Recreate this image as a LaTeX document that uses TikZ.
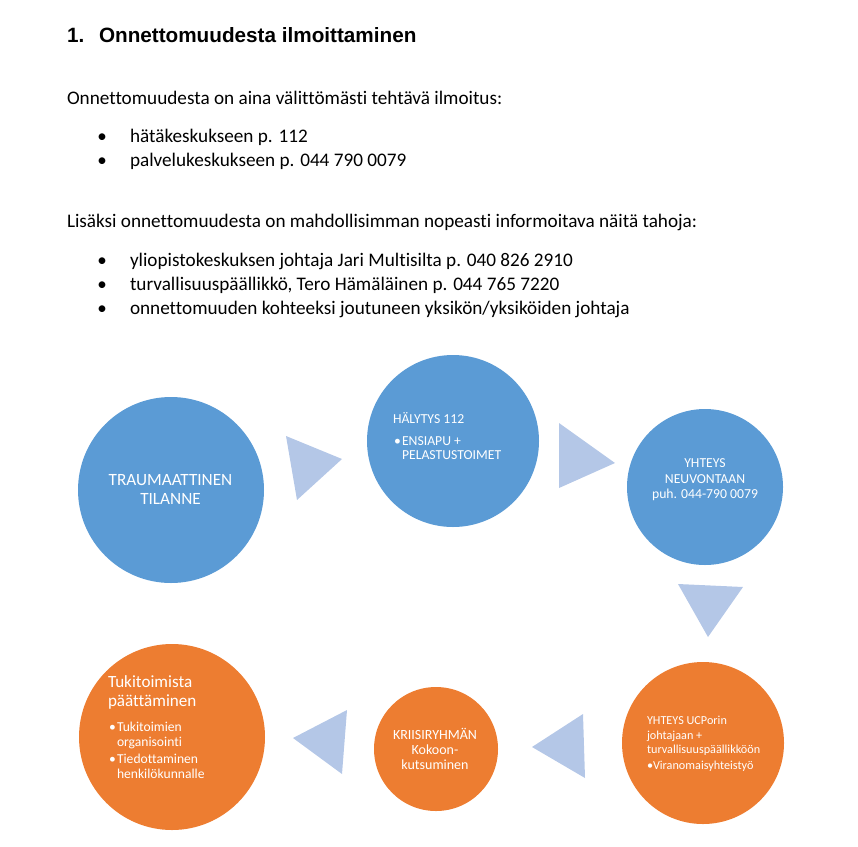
\documentclass[tikz,border=0pt]{standalone}
\usepackage{fontspec}
\setmainfont{Carlito}[Ligatures={NoCommon}]
\newfontfamily\arialfont{Liberation Sans}
\definecolor{cblue}{HTML}{5B9BD5}
\definecolor{corange}{HTML}{ED7D31}
\definecolor{ctri}{HTML}{B4C7E7}
\begin{document}
\begin{tikzpicture}[x=1pt,y=-1pt,inner sep=0pt,outer sep=0pt,
  titletext/.style={anchor=base west,font=\arialfont\bfseries\fontsize{20.7}{20.7}\selectfont},
  body/.style={anchor=base west,font=\fontsize{19.2}{19.2}\selectfont},
  bodybullet/.style={anchor=base,font=\fontsize{19}{19}\selectfont},
  bluecircle/.style={circle,fill=cblue,draw=none},
  orangecircle/.style={circle,fill=corange,draw=none},
  tri/.style={fill=ctri,draw=none},
  ctext/.style={text=white,font=\fontsize{#1}{#1}\selectfont},
  ctext/.default=13.7]
\useasboundingbox (0,0) rectangle (858,846);

% heading and text
\node[titletext] (hnum) at (67,42) {1.};
\node[titletext] (htitle) at (99,42) {Onnettomuudesta ilmoittaminen};

\node[body] (p1) at (67,104) {Onnettomuudesta on aina välittömästi tehtävä ilmoitus:};
\node[bodybullet] (b1) at (102,142.5) {•};
\node[body] (l1) at (130,142.5) {hätäkeskukseen p. 112};
\node[bodybullet] (b2) at (102,166) {•};
\node[body] (l2) at (130,166) {palvelukeskukseen p. 044 790 0079};

\node[body] (p2) at (67,227) {Lisäksi onnettomuudesta on mahdollisimman nopeasti informoitava näitä tahoja:};
\node[bodybullet] (b3) at (102,266.5) {•};
\node[body] (l3) at (130,266.5) {yliopistokeskuksen johtaja Jari Multisilta p. 040 826 2910};
\node[bodybullet] (b4) at (102,290) {•};
\node[body] (l4) at (130,290) {turvallisuuspäällikkö, Tero Hämäläinen p. 044 765 7220};
\node[bodybullet] (b5) at (102,314) {•};
\node[body] (l5) at (130,314) {onnettomuuden kohteeksi joutuneen yksikön/yksiköiden johtaja};

% circles
\node[bluecircle,minimum size=186pt] (c1) at (171,490) {};
\node[bluecircle,minimum size=172pt] (c2) at (453,441) {};
\node[bluecircle,minimum size=156pt] (c3) at (705,487) {};
\node[orangecircle,minimum size=162pt] (c4) at (703,743) {};
\node[orangecircle,minimum size=124pt] (c5) at (436,749) {};
\node[orangecircle,minimum size=186pt] (c6) at (172,737) {};

% triangles
\fill[tri] (286,436) -- (342,459) -- (297,500) -- cycle;
\fill[tri] (559,423) -- (615,463) -- (559,488) -- cycle;
\fill[tri] (678,584) -- (743,587) -- (708,637) -- cycle;
\fill[tri] (532,747) -- (583,714) -- (585,778) -- cycle;
\fill[tri] (293,738) -- (347,710) -- (342,774) -- cycle;

% circle 1 text
\node[ctext=17.2,anchor=base] (t1a) at (170.5,485) {TRAUMAATTINEN};
\node[ctext=17.2,anchor=base] (t1b) at (170.5,504) {TILANNE};

% circle 2 text
\node[ctext,anchor=base west] (t2a) at (393,423) {HÄLYTYS 112};
\node[ctext,anchor=base west] (t2b) at (394,445) {•};
\node[ctext,anchor=base west] (t2c) at (402,445) {ENSIAPU +};
\node[ctext,anchor=base west] (t2d) at (402,459) {PELASTUSTOIMET};

% circle 3 text
\node[ctext,anchor=base] (t3a) at (705,467) {YHTEYS};
\node[ctext,anchor=base] (t3b) at (705,483) {NEUVONTAAN};
\node[ctext,anchor=base] (t3c) at (705,498.5) {puh. 044-790 0079};

% circle 4 text
\node[ctext=12.2,anchor=base west] (t4a) at (647,724) {YHTEYS UCPorin};
\node[ctext=12.2,anchor=base west] (t4b) at (647,739) {johtajaan +};
\node[ctext=12.2,anchor=base west] (t4c) at (647,753) {turvallisuuspäällikköön};
\node[ctext=12.2,anchor=base west] (t4d) at (647,769) {•};
\node[ctext=12.2,anchor=base west] (t4e) at (653,769) {Viranomaisyhteistyö};

% circle 5 text
\node[ctext=14,anchor=base] (t5a) at (435,739) {KRIISIRYHMÄN};
\node[ctext=14,anchor=base] (t5b) at (435,754) {Kokoon-};
\node[ctext=14,anchor=base] (t5c) at (435,769) {kutsuminen};

% circle 6 text
\node[ctext=17.1,anchor=base west] (t6a) at (108,687) {Tukitoimista};
\node[ctext=17.1,anchor=base west] (t6b) at (108,706) {päättäminen};
\node[ctext=13.6,anchor=base west] (t6c) at (109,731) {•};
\node[ctext=13.6,anchor=base west] (t6d) at (117,731) {Tukitoimien};
\node[ctext=13.6,anchor=base west] (t6e) at (117,746) {organisointi};
\node[ctext=13.6,anchor=base west] (t6f) at (109,763) {•};
\node[ctext=13.6,anchor=base west] (t6g) at (117,763) {Tiedottaminen};
\node[ctext=13.6,anchor=base west] (t6h) at (117,778) {henkilökunnalle};
\end{tikzpicture}
\end{document}
